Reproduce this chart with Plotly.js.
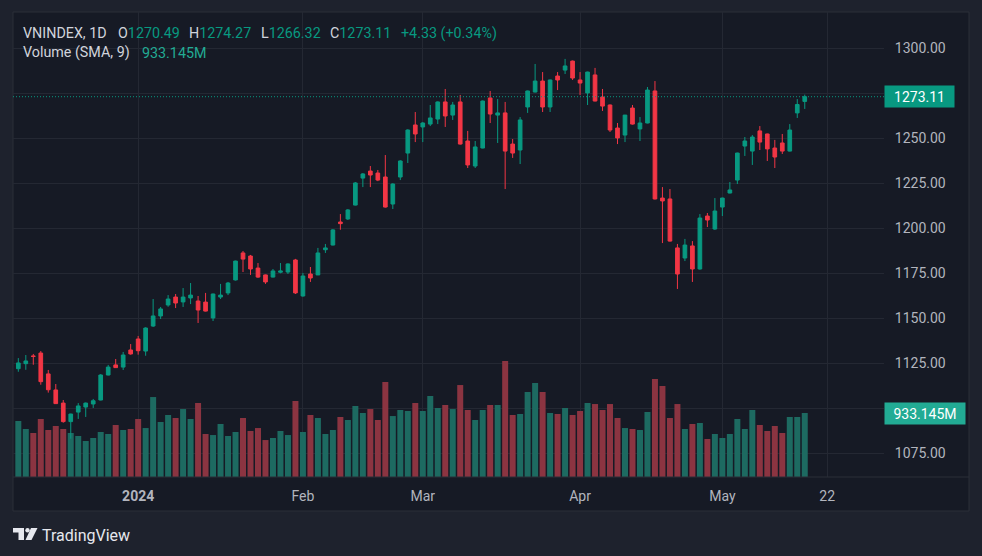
<!DOCTYPE html>
<html><head><meta charset="utf-8">
<script src="https://cdn.plot.ly/plotly-3.0.1.min.js"></script>
<style>html,body{margin:0;padding:0;background:#1e222d;}#chart{width:982px;height:556px;}</style>
</head><body><div id="chart"></div>
<script>
// ---- data (VNINDEX daily, Dec 2023 - May 2024) ----
const dates = [
 '2023-12-08','2023-12-11','2023-12-12','2023-12-13','2023-12-14','2023-12-15','2023-12-18','2023-12-19','2023-12-20','2023-12-21',
 '2023-12-22','2023-12-25','2023-12-26','2023-12-27','2023-12-28','2023-12-29',
 '2024-01-02','2024-01-03','2024-01-04','2024-01-05','2024-01-08','2024-01-09','2024-01-10','2024-01-11','2024-01-12','2024-01-15',
 '2024-01-16','2024-01-17','2024-01-18','2024-01-19','2024-01-22','2024-01-23','2024-01-24','2024-01-25','2024-01-26','2024-01-29',
 '2024-01-30','2024-01-31',
 '2024-02-01','2024-02-02','2024-02-05','2024-02-06','2024-02-07','2024-02-15','2024-02-16','2024-02-19','2024-02-20','2024-02-21',
 '2024-02-22','2024-02-23','2024-02-26','2024-02-27','2024-02-28','2024-02-29',
 '2024-03-01','2024-03-04','2024-03-05','2024-03-06','2024-03-07','2024-03-08','2024-03-11','2024-03-12','2024-03-13','2024-03-14',
 '2024-03-15','2024-03-18','2024-03-19','2024-03-20','2024-03-21','2024-03-22','2024-03-25','2024-03-26','2024-03-27','2024-03-28',
 '2024-03-29',
 '2024-04-01','2024-04-02','2024-04-03','2024-04-04','2024-04-05','2024-04-08','2024-04-09','2024-04-10','2024-04-11','2024-04-12',
 '2024-04-15','2024-04-16','2024-04-17','2024-04-19','2024-04-22','2024-04-23','2024-04-24','2024-04-25','2024-04-26',
 '2024-05-02','2024-05-03','2024-05-06','2024-05-07','2024-05-08','2024-05-09','2024-05-10','2024-05-13','2024-05-14','2024-05-15',
 '2024-05-16','2024-05-17'
];
const futureDates = ['2024-05-20','2024-05-21','2024-05-22'];

const open = [
 1122.0,1124.8,1129.1,1130.7,1119.1,1110.2,1102.9,1092.6,1097.9,1100.7,
 1102.4,1104.6,1118.5,1124.1,1122.9,1132.4,1138.5,1131.8,1145.7,1151.3,
 1157.4,1161.8,1159.1,1161.3,1159.6,1159.0,1150.2,1161.8,1164.1,1171.3,
 1186.3,1184.6,1177.9,1174.1,1172.9,1175.6,1175.7,1182.4,1162.4,1174.6,
 1174.1,1188.1,1190.7,1203.5,1205.2,1212.9,1227.9,1231.8,1230.7,1228.5,
 1213.5,1228.5,1241.8,1257.4,1256.3,1257.9,1260.7,1270.2,1262.9,1270.2,
 1248.5,1234.6,1244.6,1272.4,1262.9,1264.1,1246.8,1243.5,1267.4,1275.7,
 1281.8,1267.4,1284.6,1287.9,1292.9,1282.4,1275.2,1285.2,1272.9,1268.5,
 1255.7,1251.8,1266.8,1255.2,1258.5,1276.3,1216.8,1216.3,1189.1,1183.5,
 1190.2,1177.4,1206.8,1199.6,1211.8,1219.6,1226.8,1245.7,1242.9,1254.1,
 1252.4,1244.6,1247.4,1242.9,1264.1,1270.49
];
const high = [
 1127.9,1129.6,1130.2,1131.8,1121.3,1113.5,1104.6,1097.0,1102.9,1103.2,
 1105.2,1119.0,1124.1,1127.4,1131.3,1135.7,1140.2,1145.0,1160.7,1156.3,
 1162.9,1163.5,1166.8,1169.6,1162.4,1164.1,1163.7,1169.1,1170.2,1182.0,
 1187.4,1185.2,1180.7,1174.3,1177.4,1180.7,1180.5,1183.0,1175.2,1178.5,
 1189.1,1191.3,1199.6,1207.9,1210.7,1225.7,1230.7,1234.6,1232.4,1240.7,
 1225.0,1237.8,1255.0,1264.6,1259.0,1268.5,1270.5,1277.4,1270.2,1274.1,
 1254.1,1248.5,1271.0,1276.3,1271.8,1270.2,1249.6,1261.8,1276.5,1291.3,
 1286.8,1282.6,1286.8,1294.1,1293.2,1286.8,1287.0,1289.1,1277.4,1268.8,
 1258.5,1263.0,1268.5,1261.8,1278.5,1281.8,1222.9,1221.8,1191.3,1194.1,
 1192.9,1207.9,1208.5,1216.8,1217.0,1225.7,1242.0,1250.7,1251.8,1256.8,
 1252.6,1249.1,1252.4,1257.9,1271.8,1274.27
];
const low = [
 1120.3,1121.4,1124.2,1113.1,1108.7,1102.4,1092.0,1083.1,1094.1,1095.2,
 1100.2,1104.4,1118.3,1122.4,1121.3,1129.8,1129.8,1129.2,1145.2,1149.6,
 1156.4,1155.7,1156.3,1157.9,1147.4,1153.8,1148.5,1160.7,1162.9,1171.0,
 1175.7,1174.1,1172.4,1169.1,1172.7,1175.0,1174.6,1163.5,1162.0,1170.2,
 1174.0,1186.3,1190.5,1199.2,1204.6,1212.7,1222.9,1222.9,1226.2,1211.5,
 1210.7,1226.8,1236.3,1247.9,1247.9,1256.8,1257.9,1256.3,1260.2,1246.5,
 1233.5,1233.5,1244.4,1258.5,1247.4,1221.8,1239.1,1235.7,1264.1,1275.5,
 1264.6,1264.6,1276.8,1285.7,1282.4,1274.1,1268.5,1270.5,1265.2,1253.5,
 1246.8,1247.9,1257.6,1248.5,1258.3,1216.0,1191.8,1192.6,1166.3,1181.8,
 1170.2,1177.0,1200.7,1199.1,1206.8,1219.4,1224.6,1240.2,1235.2,1243.5,
 1237.4,1233.5,1241.3,1242.7,1261.3,1266.32
];
const close = [
 1125.2,1126.3,1128.8,1114.8,1110.3,1102.6,1092.6,1096.8,1101.3,1102.9,
 1104.2,1118.5,1122.9,1122.6,1129.6,1130.2,1132.0,1144.6,1151.3,1155.2,
 1160.7,1158.5,1161.8,1162.9,1154.6,1154.0,1163.5,1162.9,1169.6,1181.8,
 1182.9,1177.4,1172.9,1170.2,1176.3,1176.3,1180.2,1164.1,1173.5,1172.4,
 1186.3,1189.1,1199.1,1202.6,1210.2,1225.2,1230.2,1229.6,1226.8,1211.8,
 1224.6,1237.4,1254.6,1252.4,1258.5,1261.3,1270.2,1262.4,1268.5,1246.8,
 1235.2,1245.2,1270.7,1263.5,1264.1,1242.9,1241.8,1260.2,1276.3,1281.8,
 1267.4,1282.4,1282.4,1290.2,1283.5,1280.7,1286.8,1270.7,1267.9,1254.6,
 1250.2,1262.9,1257.9,1258.5,1276.8,1216.3,1215.2,1192.9,1174.6,1190.7,
 1177.4,1205.7,1204.6,1209.6,1216.8,1221.3,1241.8,1248.5,1250.7,1247.9,
 1244.1,1239.6,1242.9,1254.6,1268.78,1273.11
];
// volume in millions of shares
const volumeM = [
 817,700,642,846,685,744,700,642,598,525,
 569,656,627,758,685,700,846,714,1166,802,
 904,860,991,846,1079,627,612,773,598,656,
 860,671,714,539,569,671,612,1108,656,904,
 860,627,685,875,831,1035,933,991,831,1385,
 889,977,962,1079,962,1181,1006,1050,991,1341,
 977,831,977,1050,1050,1691,904,919,1239,1371,
 1239,933,919,1006,904,962,1079,1064,977,1064,
 860,714,700,685,948,1429,1327,860,1064,700,
 773,787,554,627,569,627,846,700,977,758,
 671,744,642,875,875,933.145
];
const tickDates  = ['2024-01-02','2024-02-01','2024-03-01','2024-04-01','2024-05-02','2024-05-22'];
const tickLabels = ['<b>2024</b>','Feb','Mar','Apr','May','22'];
const priceTicks = [1075,1100,1125,1150,1175,1200,1225,1250,1275,1300];
// tick labels covered by the last-price / volume badges in the original
const coveredTicks = [1100,1275];

// ---- styling ----
const UP = '#089981', DOWN = '#f23645';
const VOL_UP = '#1d6a61', VOL_DOWN = '#8b3441';
const GRID = '#242833', BORDER = '#2a2e39', PANEL = '#161a25', FRAME = '#1e222d';
const TXT = '#b2b5be', FONT = 'Roboto, "Liberation Sans", sans-serif';

const allDates = dates.concat(futureDates);
const xs = dates.map((d, i) => i);
const tickIdx = tickDates.map(d => allDates.indexOf(d));
const last = dates.length - 1;

// pixel -> paper helpers for decorations (plot area 13..884 x 12..477)
const L = 13, R = 884, T = 12, B = 477;
const px = x => (x - L) / (R - L);
const py = y => (B - y) / (B - T);
const P = (x, y) => px(x).toFixed(5) + ',' + py(y).toFixed(5);

const volTrace = {
  type: 'bar', x: xs, y: volumeM, xaxis: 'x', yaxis: 'y',
  marker: {color: xs.map(i => close[i] >= open[i] ? VOL_UP : VOL_DOWN), line: {width: 0}},
  hoverinfo: 'skip'
};
const candle = {
  type: 'candlestick', x: xs, open: open, high: high, low: low, close: close,
  xaxis: 'x', yaxis: 'y2', text: dates, hoverinfo: 'text',
  increasing: {line: {color: UP, width: 1}, fillcolor: UP},
  decreasing: {line: {color: DOWN, width: 1}, fillcolor: DOWN},
  whiskerwidth: 0
};

const fmt = v => v.toFixed(2);
const chg = close[last] - close[last - 1];
const pct = chg / close[last - 1] * 100;
const hdrY = py(33), hdr2Y = py(53);
const hdr = (x, html, y) => ({xref: 'paper', yref: 'paper', x: px(x), y: y, xanchor: 'left', yanchor: 'middle',
  text: html, showarrow: false, font: {family: FONT, size: 14.3, color: '#d1d4dc'}, borderpad: 0});
const g = s => '<span style="color:' + UP + '">' + s + '</span>';

const annotations = [
  hdr(22, 'VNINDEX, 1D', hdrY),
  hdr(117, 'O' + g(fmt(open[last])), hdrY),
  hdr(188, 'H' + g(fmt(high[last])), hdrY),
  hdr(260, 'L' + g(fmt(low[last])), hdrY),
  hdr(329, 'C' + g(fmt(close[last])), hdrY),
  hdr(400, g((chg >= 0 ? '+' : '') + chg.toFixed(2) + ' (' + (pct >= 0 ? '+' : '') + pct.toFixed(2) + '%)'), hdrY),
  hdr(22, 'Volume (SMA, 9)', hdr2Y),
  hdr(141, '<span style="color:#22ab94">' + volumeM[last].toFixed(3) + 'M</span>', hdr2Y),
  {xref: 'paper', yref: 'y2', x: 1, y: close[last], xanchor: 'left', yanchor: 'middle', showarrow: false,
   text: fmt(close[last]), bgcolor: UP, borderpad: 3, width: 63, height: 15, align: 'center',
   font: {family: FONT, size: 14, color: '#ffffff'}},
  {xref: 'paper', yref: 'y', x: 1, y: volumeM[last], xanchor: 'left', yanchor: 'middle', showarrow: false,
   text: volumeM[last].toFixed(3) + 'M', bgcolor: '#22ab94', borderpad: 3, width: 74, height: 15, align: 'center',
   font: {family: FONT, size: 14, color: '#ffffff'}},
  {xref: 'paper', yref: 'paper', x: px(40), y: py(535), xanchor: 'left', yanchor: 'middle', showarrow: false,
   text: 'TradingView', font: {family: FONT, size: 16, color: '#e6e8ee'}}
];

const shapes = [
  {type: 'rect', xref: 'paper', yref: 'paper', x0: px(13), x1: px(969), y0: py(511), y1: py(12),
   fillcolor: PANEL, line: {color: BORDER, width: 1}, layer: 'below'},
  {type: 'line', xref: 'paper', yref: 'paper', x0: px(13), x1: px(969), y0: py(477), y1: py(477),
   line: {color: BORDER, width: 1}},
  {type: 'line', xref: 'paper', yref: 'y2', x0: 0, x1: 1, y0: close[last], y1: close[last],
   line: {color: UP, width: 1, dash: '1px,2px'}},
  // TradingView logo
  {type: 'path', xref: 'paper', yref: 'paper', line: {width: 0}, fillcolor: '#e6e8ee',
   path: 'M' + P(13, 528) + ' L' + P(24, 528) + ' L' + P(24, 540) + ' L' + P(18.5, 540) + ' L' + P(18.5, 532.5) + ' L' + P(13, 532.5) + ' Z'},
  {type: 'circle', xref: 'paper', yref: 'paper', line: {width: 0}, fillcolor: '#e6e8ee',
   x0: px(25.3), x1: px(29.7), y0: py(532.4), y1: py(528)},
  {type: 'path', xref: 'paper', yref: 'paper', line: {width: 0}, fillcolor: '#e6e8ee',
   path: 'M' + P(31, 528) + ' L' + P(37.5, 528) + ' L' + P(31.5, 540) + ' L' + P(25.5, 540) + ' Z'}
];

const layout = {
  width: 982, height: 556,
  margin: {l: L, r: 982 - R, t: T, b: 556 - B, pad: 0},
  paper_bgcolor: FRAME, plot_bgcolor: 'rgba(0,0,0,0)',
  showlegend: false, bargap: 0.2, boxgap: 0.3,
  font: {family: FONT, color: TXT},
  xaxis: {type: 'linear', range: [-0.71, 115.58], tickvals: tickIdx, ticktext: tickLabels,
    showgrid: true, gridcolor: GRID, gridwidth: 1, zeroline: false, showline: false,
    ticks: 'outside', ticklen: 6, tickcolor: 'rgba(0,0,0,0)',
    tickfont: {family: FONT, size: 14, color: TXT}, rangeslider: {visible: false}, fixedrange: true},
  yaxis: {visible: false, range: [0, volumeM[last] * 465 / 64], fixedrange: true, showgrid: false, zeroline: false},
  yaxis2: {overlaying: 'y', side: 'right', anchor: 'x', range: [1061.83, 1320.17],
    tickvals: priceTicks, ticktext: priceTicks.map(v => coveredTicks.includes(v) ? '' : fmt(v)),
    showgrid: true, gridcolor: GRID, gridwidth: 1, zeroline: false, showline: false,
    ticks: 'outside', ticklen: 7, tickcolor: 'rgba(0,0,0,0)',
    tickfont: {family: FONT, size: 14, color: TXT}, fixedrange: true},
  annotations: annotations,
  shapes: shapes
};

Plotly.newPlot('chart', [volTrace, candle], layout, {displayModeBar: false, staticPlot: true});
</script>
</body></html>
